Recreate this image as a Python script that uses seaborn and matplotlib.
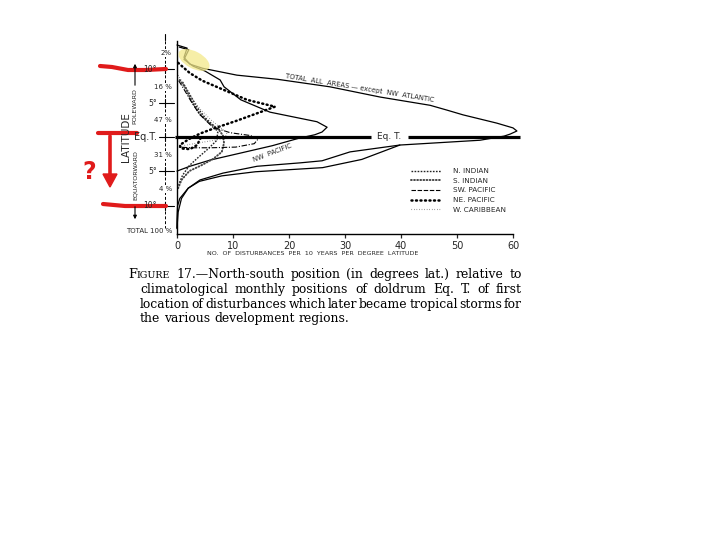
import numpy as np
import pandas as pd
import matplotlib
matplotlib.use('Agg')
import matplotlib.pyplot as plt
from matplotlib.lines import Line2D
from matplotlib.patches import Ellipse, Polygon
import seaborn as sns

# latitude relative to doldrum Eq. T. (deg, + poleward) and disturbances per 10 yr per deg lat
total_lat = [13.4, 12.95, 11.6, 10.6, 10.0, 9.0, 8.4, 7.3, 5.8, 4.6, 3.9, 3.2, 2.0, 1.3, 0.85, 0.4, 0.1,
             -0.5, -1.2, -2.2, -3.5, -3.8, -4.3, -5.3, -6.3, -7.5, -9.0, -10.1, -12.0, -13.4]
total_n = [0.0, 1.8, 1.25, 2.3, 4.6, 10.7, 17.9, 27.3, 36.3, 45.2, 48.2, 51.1, 57.1, 60.0, 60.7, 59.5, 58.4,
           54.1, 39.8, 30.9, 25.9, 22.0, 14.3, 8.2, 4.1, 2.0, 0.5, 0.1, 0.0, 0.0]

nw_pacific_lat = [13.1, 12.7, 11.3, 10.3, 9.6, 8.3, 7.3, 5.4, 3.6, 2.7, 2.2, 1.4, 0.7, 0.3,
                  -0.2, -1.3, -2.4, -3.4, -4.3, -5.0]
nw_pacific_n = [0.4, 2.1, 1.25, 2.9, 5.0, 7.7, 8.4, 11.4, 16.6, 22.0, 25.0, 26.8, 25.9, 24.6,
                21.8, 17.0, 11.2, 5.9, 2.3, 0.0]

# unlabelled solid branch reaching the bottom of the diagram
branch_lat = [-1.2, -3.3, -4.5, -4.8, -5.1, -5.7, -6.5, -7.5, -9.0, -11.0, -13.3]
branch_n = [39.8, 33.0, 26.0, 20.0, 14.0, 8.0, 4.0, 2.0, 0.8, 0.2, 0.0]

n_indian_lat = [8.0, 6.3, 4.3, 2.8, 1.6, 0.6, -0.6, -1.8, -3.0, -4.2, -5.6, -7.0]
n_indian_n = [1.0, 2.2, 3.6, 5.0, 6.6, 7.3, 7.0, 5.5, 3.8, 2.2, 1.0, 0.3]

s_indian_lat = [8.3, 7.0, 5.2, 3.4, 2.0, 1.1, 0.2, -0.9, -2.2, -3.2, -4.1, -5.0, -6.3, -7.5]
s_indian_n = [0.5, 1.6, 2.6, 4.0, 5.8, 7.4, 8.2, 8.4, 8.0, 6.5, 4.5, 2.2, 0.8, 0.2]

sw_pacific_lat = [8.2, 7.0, 5.2, 3.3, 1.4, 0.6, 0.2, -0.2, -1.0, -1.5, -1.6, -1.6, -1.5]
sw_pacific_n = [0.3, 1.2, 2.5, 4.0, 6.4, 9.5, 13.0, 14.6, 13.8, 10.5, 6.0, 2.5, 0.3]

ne_pacific_lat = [10.8, 9.3, 8.2, 6.9, 5.4, 4.4, 3.7, 2.3, 1.2, 0.5, -0.3, -1.2, -1.7, -1.8, -1.2, -0.2]
ne_pacific_n = [0.2, 2.3, 4.5, 8.2, 12.5, 17.5, 15.2, 10.5, 6.5, 4.2, 2.2, 0.5, 0.7, 2.3, 3.6, 4.2]

w_caribbean_lat = [9.0, 7.6, 5.8, 4.0, 2.5, 1.3, 0.6, -0.2, -0.6, -1.0, -1.3]
w_caribbean_n = [0.2, 1.2, 2.5, 4.2, 6.0, 7.8, 8.9, 8.6, 6.0, 3.0, 1.0]

x_ticks = [0, 10, 20, 30, 40, 50, 60]
lat_ticks_y = [69, 103, 137, 171, 206]          # pixel rows of 10, 5, Eq.T, 5, 10
lat_tick_labels = ['10°', '5°', 'Eq.T.', '5°', '10°']
pct_labels = ['2%', '16 %', '47 %', '31 %', '4 %']
pct_y = [53, 87, 120, 155, 189]

legend_names = ['N. INDIAN', 'S. INDIAN', 'SW. PACIFIC', 'NE. PACIFIC', 'W. CARIBBEAN']

caption = [
    "17.\u2014North-south position (in degrees lat.) relative to",
    "climatological monthly positions of doldrum Eq. T. of first",
    "location of disturbances which later became tropical storms for",
    "the various development regions.",
]

sns.set_theme(style='ticks', rc={'axes.linewidth': 1.0, 'xtick.major.size': 3,
                                  'xtick.major.width': 0.9, 'axes.edgecolor': 'black'})
plt.rcParams['font.family'] = ['DejaVu Sans']

fig = plt.figure(figsize=(7.2, 5.4), dpi=100)
fig.patch.set_facecolor('white')

# main plot axes: x 0..60 -> px 177..513, Eq.T at px 136.8, 6.85 px/deg
ax = fig.add_axes([177 / 720, 1 - 234.1 / 540, 336 / 720, 193.2 / 540])
ax.set_facecolor('none')
ax.set_xlim(0, 60)
ax.set_ylim(-14.2, 14.0)

styles = {
    'total': dict(color='black', lw=0.9, linestyle='-'),
    'nw': dict(color='black', lw=0.9, linestyle='-'),
    'branch': dict(color='black', lw=0.9, linestyle='-'),
    'n_indian': dict(color='#222222', lw=1.0, linestyle=(0, (1.2, 1.0))),
    's_indian': dict(color='#444444', lw=1.4, linestyle=(0, (0.4, 1.2)), dash_capstyle='round'),
    'sw_pacific': dict(color='black', lw=0.8, linestyle=(0, (5, 1.5, 1, 1.5))),
    'ne_pacific': dict(color='black', lw=1.8, linestyle=(0, (0.4, 1.4)), dash_capstyle='round'),
    'w_caribbean': dict(color='#555555', lw=0.8, linestyle=(0, (0.5, 1.8))),
}

series = [
    ('total', total_n, total_lat),
    ('nw', nw_pacific_n, nw_pacific_lat),
    ('branch', branch_n, branch_lat),
    ('n_indian', n_indian_n, n_indian_lat),
    ('s_indian', s_indian_n, s_indian_lat),
    ('sw_pacific', sw_pacific_n, sw_pacific_lat),
    ('ne_pacific', ne_pacific_n, ne_pacific_lat),
    ('w_caribbean', w_caribbean_n, w_caribbean_lat),
]
for key, n, lat in series:
    df = pd.DataFrame({'n': n, 'lat': lat})
    sns.lineplot(data=df, x='n', y='lat', sort=False, estimator=None, legend=False,
                 ax=ax, clip_on=False, **styles[key])

# doldrum equatorial trough line with its label
ax.hlines(0, -0.3, 34.6, color='black', lw=2.3, clip_on=False)
ax.hlines(0, 41.3, 61.2, color='black', lw=2.3, clip_on=False)
ax.text(37.9, 0, 'Eq. T.', fontsize=6.5, ha='center', va='center')

ax.set_xticks(x_ticks)
ax.set_xticklabels([str(v) for v in x_ticks])
ax.tick_params(axis='x', labelsize=7, pad=2, direction='out')
ax.set_yticks([])
for s in ['top', 'right']:
    ax.spines[s].set_visible(False)
ax.set_xlabel('NO.  OF  DISTURBANCES  PER  10  YEARS  PER  DEGREE  LATITUDE', fontsize=4.6)
ax.xaxis.set_label_coords(0.405, -0.085)
ax.set_ylabel('')

# legend
handles = [Line2D([], [], **styles['n_indian']),
           Line2D([], [], **styles['s_indian']),
           Line2D([], [], color='black', lw=0.8, linestyle=(0, (4, 1.5))),
           Line2D([], [], **styles['ne_pacific']),
           Line2D([], [], **styles['w_caribbean'])]
ax.legend(handles, legend_names, loc='upper left', bbox_to_anchor=(411 / 720, 1 - 168 / 540),
          bbox_transform=fig.transFigure, frameon=False, fontsize=5.2, handlelength=4.2,
          handletextpad=1.6, labelspacing=0.5, borderpad=0, borderaxespad=0)

# overlay in pixel coordinates for the annotations around the diagram
ov = fig.add_axes([0, 0, 1, 1], zorder=5)
ov.set_xlim(0, 720)
ov.set_ylim(540, 0)
ov.axis('off')
ov.patch.set_alpha(0)

ov.text(360, 88, 'TOTAL  ALL  AREAS \u2014 except  NW  ATLANTIC', fontsize=4.9, rotation=-9.2,
        ha='center', va='center')
ov.text(272, 153, 'NW  PACIFIC', fontsize=4.9, rotation=21, ha='center', va='center')

# dashed latitude scale
ov.plot([165, 165], [36, 228], color='black', lw=0.7, linestyle=(0, (3, 2)))
ov.plot([165, 165], [34, 40], color='black', lw=0.8)
for yy, lab in zip(lat_ticks_y, lat_tick_labels):
    ov.plot([159, 174], [yy, yy], color='black', lw=0.8)
    ov.plot([165, 165], [yy - 4, yy + 4], color='black', lw=0.8)
    fs = 7 if lab.startswith('Eq') else 5.5
    ov.text(157, yy, lab, fontsize=fs, ha='right', va='center')
for yy, lab in zip(pct_y, pct_labels):
    ov.text(172, yy, lab, fontsize=5, ha='right', va='center',
            bbox=dict(facecolor='white', edgecolor='none', pad=0.6))
ov.text(148, 231, 'TOTAL', fontsize=5, ha='right', va='center')
ov.text(172, 231, '100 %', fontsize=5, ha='right', va='center')

ov.text(126, 137, 'LATITUDE', fontsize=7.5, rotation=90, ha='center', va='center')
ov.text(135, 106, 'POLEWARD', fontsize=4.6, rotation=90, ha='center', va='center')
ov.text(135, 175, 'EQUATORWARD', fontsize=4.6, rotation=90, ha='center', va='center')
ov.annotate('', xy=(135, 61), xytext=(135, 88),
            arrowprops=dict(arrowstyle='-|>', color='black', lw=0.8, mutation_scale=5))
ov.annotate('', xy=(135, 222), xytext=(135, 204),
            arrowprops=dict(arrowstyle='-|>', color='black', lw=0.8, mutation_scale=5))

# highlighter blob near the top of the curves
ov.add_patch(Ellipse((194, 60), 34, 17, angle=28, facecolor='#f3e98a', edgecolor='none',
                     alpha=0.75, zorder=6))

# red hand annotations
red = '#e01b1b'
ov.plot([100, 112, 128, 145, 166], [66, 67, 70, 70, 69], color=red, lw=3, solid_capstyle='round')
ov.plot([98, 137], [133, 133], color=red, lw=3, solid_capstyle='round')
ov.plot([103, 125, 145, 166], [204, 206, 206, 206], color=red, lw=3, solid_capstyle='round')
ov.plot([110, 110], [136, 178], color=red, lw=2.6)
ov.add_patch(Polygon([[103, 174], [117, 174], [110, 187]], closed=True, color=red))
ov.text(89, 172, '?', fontsize=17, fontweight='bold', color=red, ha='center', va='center')

# caption, justified like the printed text
renderer = fig.canvas.get_renderer()
cap_kw = dict(family='DejaVu Serif', color='black', va='baseline')


def word_width(txt, size):
    t = ov.text(0, 0, txt, fontsize=size, **cap_kw)
    w = t.get_window_extent(renderer).width
    t.remove()
    return w


def place_line(words, x0, x1, y, size, justify=True):
    # words: list of words, each a list of (text, size) runs
    widths = [sum(word_width(t, s) for t, s in w) for w in words]
    if justify and len(words) > 1:
        gap = (x1 - x0 - sum(widths)) / (len(words) - 1)
    else:
        gap = 0.32 * size * 100 / 72
    x = x0
    for w, wd in zip(words, widths):
        xx = x
        for t, s in w:
            ov.text(xx, y, t, fontsize=s, **cap_kw)
            xx += word_width(t, s)
        x += wd + gap


size = 8.9
first = [[('F', size + 0.4), ('IGURE', size - 2.1)]] + [[(w, size)] for w in caption[0].split()]
place_line(first, 128, 522, 278, size)
place_line([[(w, size)] for w in caption[1].split()], 140, 522, 293, size)
place_line([[(w, size)] for w in caption[2].split()], 140, 522, 308, size)
place_line([[(w, size)] for w in caption[3].split()], 140, 522, 322, size, justify=False)

fig.savefig('out.png', dpi=100, facecolor='white')
